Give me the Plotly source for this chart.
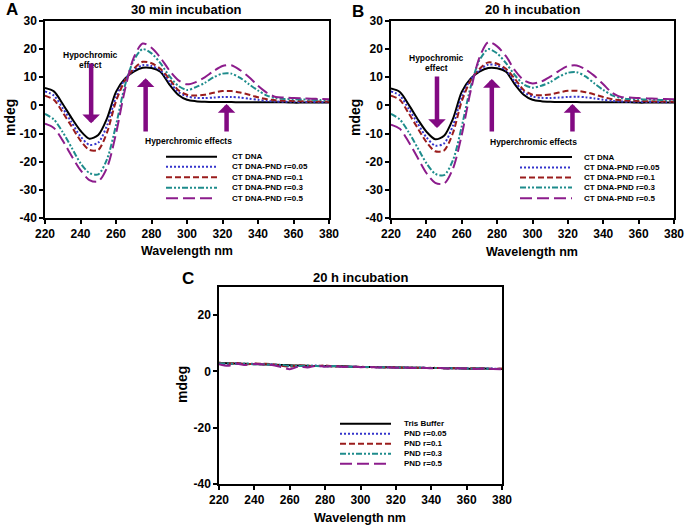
import plotly.graph_objects as go

W, H = 685, 528

wl = [220, 225, 230, 235, 240, 245, 250, 255, 260, 265, 270, 275, 280, 285, 290, 295,
      300, 305, 310, 315, 320, 325, 330, 335, 340, 345, 350, 355, 360, 365, 370, 375, 380]

# Panel A: 30 min incubation
a_ct = [6.2, 5.0, 0.5, -4.5, -9.0, -11.8, -10.5, -4.5, 4.8, 9.5, 12.0, 13.4, 13.3, 12.0, 7.5, 3.8,
        2.0, 1.5, 1.3, 1.2, 1.2, 1.2, 1.1, 1.1, 1.1, 1.1, 1.1, 1.1, 1.0, 1.0, 1.0, 1.0, 1.0]
a_r005 = [5.0, 3.5, -1.0, -6.0, -11.0, -14.0, -13.2, -7.0, 3.0, 9.2, 12.5, 14.3, 14.0, 12.5, 8.5, 4.8,
          3.2, 2.7, 2.6, 2.8, 3.0, 3.0, 2.8, 2.4, 2.0, 1.6, 1.4, 1.3, 1.3, 1.2, 1.2, 1.1, 1.1]
a_r01 = [3.5, 2.0, -2.5, -7.5, -12.5, -15.8, -15.8, -9.5, 1.5, 8.8, 13.0, 15.5, 15.0, 13.0, 9.5, 5.5,
         3.8, 3.5, 3.8, 4.5, 5.1, 5.1, 4.6, 3.8, 2.9, 2.2, 1.8, 1.7, 1.6, 1.5, 1.4, 1.4, 1.3]
a_r03 = [-3.0, -5.0, -9.5, -15.0, -20.5, -24.0, -24.5, -19.0, -7.0, 7.0, 16.0, 20.0, 18.5, 15.0, 10.5, 7.0,
         5.5, 6.5, 8.0, 10.0, 11.3, 11.3, 9.8, 7.5, 5.3, 3.5, 2.6, 2.3, 2.2, 2.1, 2.0, 1.9, 1.8]
a_r05 = [-6.5, -8.0, -12.5, -18.0, -23.0, -26.5, -27.0, -22.0, -10.0, 5.5, 17.0, 22.0, 20.5, 17.0, 12.5, 9.0,
         7.5, 8.3, 10.0, 12.2, 14.0, 14.3, 12.5, 10.0, 7.0, 4.5, 3.0, 2.8, 2.6, 2.5, 2.4, 2.3, 2.2]

# Panel B: 20 h incubation
b_ct = [6.0, 4.8, 0.3, -4.8, -9.3, -12.0, -10.8, -4.8, 4.8, 9.5, 12.0, 13.3, 13.2, 12.0, 7.5, 3.8,
        2.0, 1.5, 1.3, 1.2, 1.2, 1.2, 1.1, 1.1, 1.1, 1.1, 1.1, 1.1, 1.0, 1.0, 1.0, 1.0, 1.0]
b_r005 = [5.0, 3.5, -1.2, -6.3, -11.3, -14.3, -13.5, -7.2, 3.0, 9.2, 12.5, 14.5, 14.2, 12.5, 8.5, 4.8,
          3.2, 2.7, 2.6, 2.8, 3.0, 3.1, 2.9, 2.5, 2.0, 1.6, 1.4, 1.3, 1.3, 1.2, 1.2, 1.1, 1.1]
b_r01 = [3.5, 2.0, -2.8, -8.0, -13.0, -16.3, -16.0, -9.8, 1.5, 8.8, 13.0, 15.3, 14.8, 13.0, 9.5, 5.5,
         3.8, 3.6, 3.9, 4.6, 5.2, 5.2, 4.7, 3.9, 3.0, 2.2, 1.8, 1.7, 1.6, 1.5, 1.4, 1.4, 1.3]
b_r03 = [-3.0, -5.0, -9.5, -15.0, -20.5, -24.3, -24.8, -19.5, -7.5, 6.5, 16.0, 20.0, 18.5, 15.0, 10.8, 7.5,
         6.3, 7.0, 8.3, 10.2, 11.6, 11.8, 10.3, 7.8, 5.5, 3.6, 2.6, 2.3, 2.2, 2.1, 2.0, 1.9, 1.8]
b_r05 = [-6.8, -8.3, -13.0, -18.5, -24.0, -27.5, -27.8, -22.5, -10.5, 5.0, 17.0, 22.5, 21.0, 17.5, 12.5, 9.0,
         7.8, 8.5, 10.2, 12.3, 14.0, 14.2, 12.8, 10.5, 7.5, 4.5, 3.0, 2.8, 2.6, 2.5, 2.4, 2.3, 2.2]

# Panel C: PND alone, 20 h incubation
c_tris = [3.0, 2.9, 2.8, 2.7, 2.6, 2.5, 2.4, 2.3, 2.2, 2.1, 2.0, 1.9, 1.9, 1.8, 1.8, 1.7,
          1.6, 1.6, 1.5, 1.5, 1.4, 1.4, 1.3, 1.3, 1.2, 1.2, 1.1, 1.1, 1.0, 1.0, 1.0, 0.9, 0.9]
c_r005 = [2.8, 2.5, 2.9, 2.6, 2.7, 2.6, 2.5, 2.1, 1.8, 2.0, 1.9, 2.1, 1.8, 1.9, 1.7, 1.7,
          1.6, 1.6, 1.5, 1.5, 1.4, 1.3, 1.3, 1.3, 1.2, 1.2, 1.1, 1.1, 1.1, 1.0, 1.0, 1.0, 0.9]
c_r01 = [3.2, 2.7, 3.0, 2.5, 2.8, 2.7, 2.6, 2.0, 1.7, 2.2, 2.0, 1.9, 2.1, 1.8, 1.8, 1.6,
         1.7, 1.5, 1.6, 1.4, 1.5, 1.3, 1.4, 1.2, 1.3, 1.2, 1.1, 1.2, 1.0, 1.1, 1.0, 0.9, 1.0]
c_r03 = [2.9, 2.8, 2.6, 2.8, 2.5, 2.6, 2.4, 2.3, 2.0, 1.9, 2.1, 1.9, 1.8, 1.9, 1.7, 1.7,
         1.6, 1.6, 1.5, 1.5, 1.4, 1.4, 1.3, 1.3, 1.2, 1.2, 1.1, 1.1, 1.0, 1.0, 1.0, 0.9, 0.9]
c_r05 = [2.6, 2.0, 2.7, 2.3, 2.6, 2.5, 2.3, 1.6, 0.8, 1.7, 1.4, 2.0, 1.7, 1.9, 1.6, 1.8,
         1.5, 1.6, 1.4, 1.5, 1.3, 1.4, 1.2, 1.3, 1.1, 1.2, 1.0, 1.1, 1.0, 0.9, 1.0, 0.9, 0.8]

ab_names = ["CT DNA", "CT DNA-PND r=0.05", "CT DNA-PND r=0.1", "CT DNA-PND r=0.3", "CT DNA-PND r=0.5"]
c_names = ["Tris Buffer", "PND r=0.05", "PND r=0.1", "PND r=0.3", "PND r=0.5"]

x_ticks = [220, 240, 260, 280, 300, 320, 340, 360, 380]
y_ticks_ab = [-40, -30, -20, -10, 0, 10, 20, 30]
y_ticks_c = [-40, -20, 0, 20]

colors = ["#000000", "#3434CC", "#9A1C1C", "#1E8C8C", "#8C1C8C"]
dashes = ["solid", "2px,2px", "6px,3px", "6px,2px,2px,2px,2px,2px", "12px,5px"]
arrow_color = "#820A82"
FONT = "Liberation Sans, Arial, sans-serif"

fig = go.Figure()

def add_panel(series, names, xa, ya):
    for s, nm, c, d in zip(series, names, colors, dashes):
        fig.add_trace(go.Scatter(x=wl, y=s, mode="lines", name=nm, showlegend=False,
                                 xaxis=xa, yaxis=ya,
                                 line=dict(color=c, dash=d, width=2, shape="spline", smoothing=0.8)))

add_panel([a_ct, a_r005, a_r01, a_r03, a_r05], ab_names, "x", "y")
add_panel([b_ct, b_r005, b_r01, b_r03, b_r05], ab_names, "x2", "y2")
add_panel([c_tris, c_r005, c_r01, c_r03, c_r05], c_names, "x3", "y3")

def px(x):
    return x / W

def py(y):
    return 1 - y / H

axis_common = dict(showline=True, linecolor="black", linewidth=1.5, mirror=True,
                   ticks="outside", ticklen=4, tickwidth=1.5, tickcolor="black",
                   showgrid=False, zeroline=False, automargin=False,
                   tickfont=dict(family=FONT, size=12, color="black", weight="bold"))

def lab(v):
    return [str(t) for t in v]

xt = dict(range=[220, 380], tickvals=x_ticks, ticktext=lab(x_ticks), **axis_common)
yt_ab = dict(range=[-40, 30], tickvals=y_ticks_ab, ticktext=lab(y_ticks_ab), **axis_common)
yt_c = dict(range=[-40, 30], tickvals=y_ticks_c, ticktext=lab(y_ticks_c), **axis_common)

fig.update_layout(
    width=W, height=H, margin=dict(l=0, r=0, t=0, b=0, autoexpand=False),
    plot_bgcolor="white", paper_bgcolor="white", showlegend=False,
    xaxis=dict(domain=[px(45), px(329)], anchor="y", **xt),
    yaxis=dict(domain=[py(218), py(21)], anchor="x", **yt_ab),
    xaxis2=dict(domain=[px(391), px(674)], anchor="y2", **xt),
    yaxis2=dict(domain=[py(218), py(21)], anchor="x2", **yt_ab),
    xaxis3=dict(domain=[px(219), px(502)], anchor="y3", **xt),
    yaxis3=dict(domain=[py(484), py(287)], anchor="x3", **yt_c),
)

ann = []
def text(x, y, s, size, xanchor="center", textangle=0):
    ann.append(dict(x=px(x), y=py(y), xref="paper", yref="paper", text=s, showarrow=False,
                    xanchor=xanchor, yanchor="middle", textangle=textangle,
                    font=dict(family=FONT, size=size, color="black", weight="bold")))

# Panel letters and titles
text(12, 10, "A", 17)
text(187, 9, "30 min incubation", 13)
text(358, 11, "B", 17)
text(532, 10, "20 h incubation", 13)
text(188, 278, "C", 17)
text(360, 277, "20 h incubation", 13)

# Axis titles
text(187, 251, "Wavelength nm", 12.5)
text(532, 252, "Wavelength nm", 12.5)
text(360, 518, "Wavelength nm", 12.5)
text(10, 118, "mdeg", 14, textangle=-90)
text(355, 118, "mdeg", 14, textangle=-90)
text(182, 385, "mdeg", 14, textangle=-90)

# Effect labels
text(90, 55, "Hypochromic", 8.5)
text(90, 65, "effect", 8.5)
text(188, 141, "Hyperchromic effects", 8.5)
text(436, 58, "Hypochromic", 8.5)
text(436, 68, "effect", 8.5)
text(533, 142, "Hyperchromic effects", 8.5)

def arrow(xa, ya, x, y_tail, y_tip):
    ann.append(dict(x=x, y=y_tip, ax=x, ay=y_tail, xref=xa, yref=ya, axref=xa, ayref=ya,
                    showarrow=True, arrowhead=1, arrowsize=0.65, arrowwidth=4.5,
                    arrowcolor=arrow_color, text=""))

arrow("x", "y", 246, 15.4, -6.3)
arrow("x", "y", 276.7, -9.8, 9.7)
arrow("x", "y", 322.3, -9.8, 0.5)
arrow("x2", "y2", 246, 10.8, -8.0)
arrow("x2", "y2", 277, -9.8, 9.4)
arrow("x2", "y2", 322.6, -9.8, 0.5)

# Legends drawn as keys + labels
shapes = []
def legend(x0, x1, xt_, rows, names):
    for r, nm, c, d in zip(rows, names, colors, dashes):
        shapes.append(dict(type="line", xref="paper", yref="paper",
                           x0=px(x0), x1=px(x1), y0=py(r), y1=py(r),
                           line=dict(color=c, width=2, dash=d)))
        ann.append(dict(x=px(xt_), y=py(r), xref="paper", yref="paper", text=nm,
                        showarrow=False, xanchor="left", yanchor="middle",
                        font=dict(family=FONT, size=8, color="black", weight="bold")))

legend(166, 217, 230, [156.7, 166.7, 177.3, 187.7, 198.3], ab_names)
legend(520, 572, 582, [157, 167.5, 177.5, 187.5, 198.3], ab_names)
legend(340, 391, 402, [423.7, 433.7, 443.7, 453.7, 463.7], c_names)

fig.update_layout(annotations=ann, shapes=shapes)
fig.write_html("out.html", config={"displayModeBar": False},
               post_script="document.body.style.margin='0';document.body.style.padding='0';")
